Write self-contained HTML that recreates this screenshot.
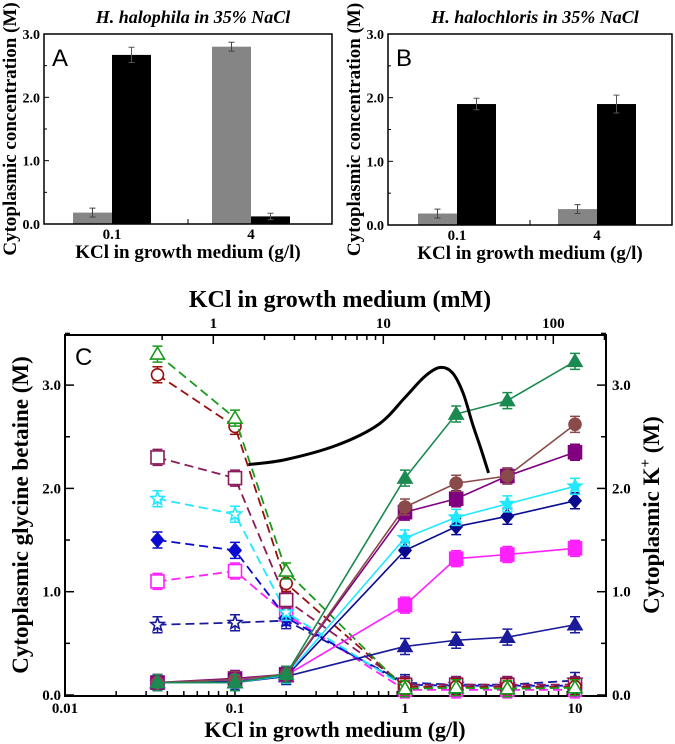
<!DOCTYPE html>
<html><head><meta charset="utf-8"><style>
body{margin:0;background:#fff;}
svg{display:block;font-family:"Liberation Serif",serif;}
.b{font-weight:bold}
</style></head><body>
<svg id="fig" width="675" height="744" viewBox="0 0 675 744" xmlns="http://www.w3.org/2000/svg"></svg>
<script>
// Panel A/B data
const barCats = ["0.1","4"];
const aGlycine = [0.18, 2.80];
const aPotassium = [2.67, 0.12];
const aGlyErr = [0.07, 0.07];
const aKErr = [0.12, 0.05];
const bGlycine = [0.18, 0.25];
const bPotassium = [1.90, 1.90];
const bGlyErr = [0.07, 0.07];
const bKErr = [0.09, 0.14];
// Panel C data
const kclX = [0.035, 0.1, 0.2, 1, 2, 4, 10];
const gbGreen = [3.30, 2.68, 1.20, 0.06, 0.07, 0.06, 0.07];
const gbRed = [3.10, 2.60, 1.08, 0.08, 0.08, 0.08, 0.08];
const gbPurple = [2.30, 2.10, 0.92, 0.10, 0.10, 0.10, 0.10];
const gbCyan = [1.90, 1.75, 0.80, 0.08, 0.08, 0.08, 0.07];
const gbBlue = [1.50, 1.40, 0.75, 0.10, 0.09, 0.09, 0.09];
const gbMagenta = [1.10, 1.20, 0.78, 0.05, 0.05, 0.05, 0.05];
const gbNavy = [0.68, 0.70, 0.72, 0.12, 0.10, 0.10, 0.14];
const kGreen = [0.12, 0.12, 0.20, 2.10, 2.72, 2.85, 3.23];
const kBrown = [0.12, 0.15, 0.20, 1.82, 2.05, 2.12, 2.62];
const kPurple = [0.12, 0.16, 0.20, 1.77, 1.90, 2.12, 2.35];
const kCyan = [0.12, 0.12, 0.19, 1.52, 1.72, 1.85, 2.02];
const kNavy = [0.12, 0.13, 0.18, 1.40, 1.63, 1.73, 1.88];
const kMagenta = [0.12, 0.14, 0.19, 0.87, 1.32, 1.36, 1.42];
const kDarkBlue = [0.12, 0.12, 0.18, 0.47, 0.53, 0.56, 0.68];
const curveX = [0.12, 0.2, 0.4, 0.7, 1.0, 1.3, 1.6, 1.9, 2.2, 2.5, 2.8, 3.1];
const curveY = [2.23, 2.28, 2.42, 2.62, 2.88, 3.08, 3.17, 3.12, 2.92, 2.62, 2.38, 2.15];
const xTicks = [0.01, 0.1, 1, 10];
const xTickLabels = ["0.01", "0.1", "1", "10"];
const mmTicks = [1, 10, 100];
const yTicks = [0, 1, 2, 3];
const yTickLabels = ["0.0", "1.0", "2.0", "3.0"];

const NS = "http://www.w3.org/2000/svg";
const svg = document.getElementById("fig");
function mk(tag, attrs, parent, text){
  const e = document.createElementNS(NS, tag);
  for (const k in attrs) e.setAttribute(k, attrs[k]);
  if (text !== undefined) e.textContent = text;
  (parent || svg).appendChild(e);
  return e;
}

function barPanel(L, R, T, B, glyc, kk, gErr, kErr, barX, title, letter, id){
  const g = mk("g", {});
  
  
  const y = v => B - v / 3 * (B - T);
  for (let i = 0; i < barCats.length; i++){
    const x0 = barX[i];
    const r1 = mk("rect", {x: x0, y: y(glyc[i]), width: 39, height: B - y(glyc[i]), fill: "#858585"}, g);
    
    
    const r2 = mk("rect", {x: x0 + 39, y: y(kk[i]), width: 39, height: B - y(kk[i]), fill: "#000"}, g);
    
    
    [[x0 + 19.5, glyc[i], gErr[i], "#444"], [x0 + 58.5, kk[i], kErr[i], "#555"]].forEach(([cx, v, e, c]) => {
      mk("path", {d: `M${cx},${y(v + e)}V${y(v - e)}M${cx - 3},${y(v + e)}h6M${cx - 3},${y(v - e)}h6`, stroke: c, "stroke-width": 1, fill: "none"}, g);
    });
    mk("text", {x: x0 + 39, y: B + 15, "text-anchor": "middle", "font-size": 15, class: "b"}, g, barCats[i]);
  }
  mk("rect", {x: L, y: T, width: R - L, height: B - T, fill: "none", stroke: "#000", "stroke-width": 1.5}, g);
  mk("line", {x1: (L + R) / 2, y1: B, x2: (L + R) / 2, y2: B - 5, stroke: "#000"}, g);
  yTicks.forEach((v, i) => {
    mk("line", {x1: L, y1: y(v), x2: L + 5, y2: y(v), stroke: "#000"}, g);
    if (i < 3) mk("line", {x1: L, y1: y(v + 0.5), x2: L + 3, y2: y(v + 0.5), stroke: "#000"}, g);
    mk("text", {x: L - 4, y: y(v) + 5, "text-anchor": "end", "font-size": 14, class: "b"}, g, yTickLabels[i]);
  });
  const t = mk("text", {x: (L + R) / 2 + 5, y: 23, "text-anchor": "middle", "font-size": 18, class: "b", "font-style": "italic"}, g, title);
  
  
  mk("text", {x: L + 8, y: T + 32, "font-size": 24, "font-family": "Liberation Sans, sans-serif"}, g, letter);
  const xl = mk("text", {x: (L + R) / 2, y: B + 34, "text-anchor": "middle", "font-size": 19, class: "b"}, g, "KCl in growth medium (g/l)");
  
  
  const yl = mk("text", {x: 0, y: 0, transform: `translate(${L - 28},${(T + B) / 2}) rotate(-90)`, "text-anchor": "middle", "font-size": 19, class: "b"}, g, "Cytoplasmic concentration (M)");
  
  
}
barPanel(44, 332, 34, 224, aGlycine, aPotassium, aGlyErr, aKErr, [73, 212], "H. halophila in 35% NaCl", "A", "a");
barPanel(388, 672, 34, 225, bGlycine, bPotassium, bGlyErr, bKErr, [418, 558], "H. halochloris in 35% NaCl", "B", "b");

// Panel C
const L = 65, R = 606, T = 335, B = 696;
const xs = v => 65 + (Math.log10(v) + 2) * 170;
const ys = v => 695 - v * 103.3;
const gC = mk("g", {});


mk("rect", {x: L, y: T, width: R - L, height: B - T, fill: "none", stroke: "#000", "stroke-width": 2}, gC);
for (let d = -2; d <= 1; d++){
  for (let m = 1; m <= 9; m++){
    const v = m * Math.pow(10, d);
    const x = xs(v);
    if (x > R) break;
    mk("line", {x1: x, y1: B, x2: x, y2: B - (m === 1 ? 9 : 5), stroke: "#000", "stroke-width": 1.5}, gC);
  }
}
xTicks.forEach((v, i) => mk("text", {x: xs(v), y: B + 17, "text-anchor": "middle", "font-size": 15, class: "b"}, gC, xTickLabels[i]));
const mmToG = 0.07455;
for (let d = 0; d <= 2; d++){
  for (let m = 1; m <= 9; m++){
    const x = xs(m * Math.pow(10, d) * mmToG);
    if (x > R) break;
    if (x < L) continue;
    mk("line", {x1: x, y1: T, x2: x, y2: T + (m === 1 ? 9 : 5), stroke: "#000", "stroke-width": 1.5}, gC);
  }
}
mk("line", {x1: xs(0.5 * mmToG), y1: T, x2: xs(0.5 * mmToG), y2: T + 5, stroke: "#000", "stroke-width": 1.5}, gC);
mmTicks.forEach(v => mk("text", {x: xs(v * mmToG), y: T - 7, "text-anchor": "middle", "font-size": 15, class: "b"}, gC, String(v)));
yTicks.forEach((v, i) => {
  mk("line", {x1: L, y1: ys(v), x2: L + 9, y2: ys(v), stroke: "#000", "stroke-width": 1.5}, gC);
  mk("line", {x1: R, y1: ys(v), x2: R - 9, y2: ys(v), stroke: "#000", "stroke-width": 1.5}, gC);
  mk("line", {x1: L, y1: ys(v + 0.5), x2: L + 5, y2: ys(v + 0.5), stroke: "#000", "stroke-width": 1.5}, gC);
  mk("line", {x1: R, y1: ys(v + 0.5), x2: R - 5, y2: ys(v + 0.5), stroke: "#000", "stroke-width": 1.5}, gC);
  mk("text", {x: L - 4, y: ys(v) + 5, "text-anchor": "end", "font-size": 15, class: "b"}, gC, yTickLabels[i]);
  mk("text", {x: R + 6, y: ys(v) + 5, "font-size": 15, class: "b"}, gC, yTickLabels[i]);
});
mk("text", {x: 75, y: 365, "font-size": 24, "font-family": "Liberation Sans, sans-serif"}, gC, "C");
const tt = mk("text", {x: 340, y: 307, "text-anchor": "middle", "font-size": 24, class: "b"}, gC, "KCl in growth medium (mM)");


const bt = mk("text", {x: 335, y: 737, "text-anchor": "middle", "font-size": 22, class: "b"}, gC, "KCl in growth medium (g/l)");


const lt = mk("text", {x: 0, y: 0, transform: "translate(28,515) rotate(-90)", "text-anchor": "middle", "font-size": 23, class: "b"}, gC, "Cytoplasmic glycine betaine (M)");


const rt = mk("text", {x: 0, y: 0, transform: "translate(659,515) rotate(-90)", "text-anchor": "middle", "font-size": 23, class: "b"}, gC);


rt.appendChild(document.createTextNode("Cytoplasmic K"));
mk("tspan", {dy: -9, "font-size": 15}, rt, "+");
mk("tspan", {dy: 9}, rt, " (M)");

function marker(shape, x, y, color, filled, parent){
  const f = filled ? color : "#fff";
  const a = {fill: f, stroke: color, "stroke-width": 1.6};
  if (shape === "tri") mk("path", Object.assign({d: `M${x},${y - 7}L${x + 7},${y + 5}L${x - 7},${y + 5}Z`}, a), parent);
  else if (shape === "circ") mk("circle", Object.assign({cx: x, cy: y, r: 6}, a), parent);
  else if (shape === "sq") mk("rect", Object.assign({x: x - 6.5, y: y - 6.5, width: 13, height: 13}, a), parent);
  else if (shape === "dia") mk("path", Object.assign({d: `M${x},${y - 7}L${x + 6},${y}L${x},${y + 7}L${x - 6},${y}Z`}, a), parent);
  else if (shape === "star"){
    let d = "";
    for (let i = 0; i < 10; i++){
      const r = i % 2 ? 3 : 7, an = -Math.PI / 2 + i * Math.PI / 5;
      d += (i ? "L" : "M") + (x + r * Math.cos(an)) + "," + (y + r * Math.sin(an));
    }
    mk("path", Object.assign({d: d + "Z"}, a), parent);
  }
}
function series(name, vals, color, shape, filled, dashed){
  const g = mk("g", {}, gC);
  
  
  const pts = kclX.map((x, i) => xs(x) + "," + ys(vals[i])).join(" ");
  mk("polyline", {points: pts, fill: "none", stroke: color, "stroke-width": dashed ? 1.8 : 1.6, "stroke-dasharray": dashed ? "9,5" : "none"}, g);
  kclX.forEach((x, i) => {
    const cx = xs(x), cy = ys(vals[i]);
    mk("path", {d: `M${cx},${cy - 8}V${cy + 8}M${cx - 5},${cy - 8}h10M${cx - 5},${cy + 8}h10`, stroke: color, "stroke-width": 1.5}, g);
    marker(shape, cx, cy, color, filled, g);
  });
}
series("series-gb-magenta", gbMagenta, "#ff20ff", "sq", false, true);
series("series-gb-navy", gbNavy, "#1a1a9a", "star", false, true);
series("series-gb-blue", gbBlue, "#0a0ad0", "dia", true, true);
series("series-gb-cyan", gbCyan, "#20e8ff", "star", false, true);
series("series-gb-purple", gbPurple, "#8b1a5a", "sq", false, true);
series("series-gb-red", gbRed, "#9a1010", "circ", false, true);
series("series-gb-green", gbGreen, "#1a9a1a", "tri", false, true);
series("series-k-darkblue", kDarkBlue, "#1a1a9a", "tri", true, false);
series("series-k-magenta", kMagenta, "#ff20ff", "sq", true, false);
series("series-k-navy", kNavy, "#0a0a90", "dia", true, false);
series("series-k-cyan", kCyan, "#20e8ff", "star", true, false);
series("series-k-purple", kPurple, "#800080", "sq", true, false);
series("series-k-brown", kBrown, "#8b4a4a", "circ", true, false);
series("series-k-green", kGreen, "#1a8a50", "tri", true, false);
// smooth curve (Catmull-Rom)
const cp = curveX.map((x, i) => [xs(x), ys(curveY[i])]);
let cd = `M${cp[0][0]},${cp[0][1]}`;
for (let i = 0; i < cp.length - 1; i++){
  const p0 = cp[Math.max(0, i - 1)], p1 = cp[i], p2 = cp[i + 1], p3 = cp[Math.min(cp.length - 1, i + 2)];
  const c1 = [p1[0] + (p2[0] - p0[0]) / 6, p1[1] + (p2[1] - p0[1]) / 6];
  const c2 = [p2[0] - (p3[0] - p1[0]) / 6, p2[1] - (p3[1] - p1[1]) / 6];
  cd += `C${c1[0]},${c1[1]} ${c2[0]},${c2[1]} ${p2[0]},${p2[1]}`;
}
const cv = mk("path", {d: cd, fill: "none", stroke: "#000", "stroke-width": 3, "stroke-linejoin": "round"}, gC);


</script>
</body></html>
